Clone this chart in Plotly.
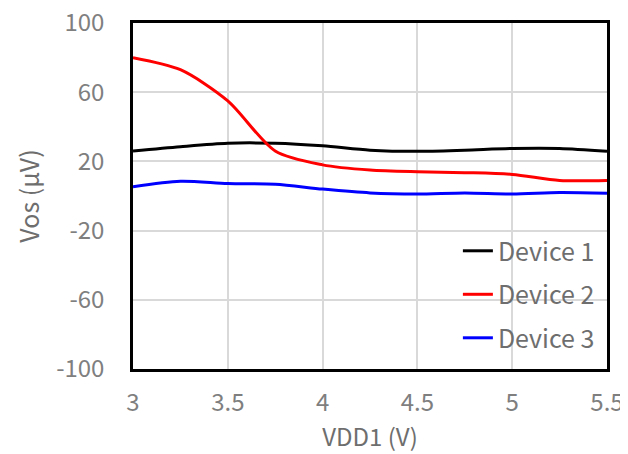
import plotly.graph_objects as go

vdd1 = [3.0, 3.25, 3.5, 3.75, 4.0, 4.25, 4.5, 4.75, 5.0, 5.25, 5.5]
device1 = [26.0, 28.5, 30.5, 30.5, 29.0, 26.5, 25.8, 26.5, 27.5, 27.5, 25.8]
device2 = [80.0, 73.0, 55.0, 26.0, 18.0, 15.0, 14.0, 13.5, 12.5, 9.0, 9.0]
device3 = [5.4, 8.5, 7.2, 6.8, 4.0, 1.8, 1.2, 1.8, 1.2, 2.0, 1.6]
series_names = ["Device 1", "Device 2", "Device 3"]
series_colors = ["#000000", "#ff0000", "#0000ff"]
x_ticks = [3, 3.5, 4, 4.5, 5, 5.5]
x_ticktext = ["3", "3.5", "4", "4.5", "5", "5.5"]
y_ticks = [-100, -60, -20, 20, 60, 100]
y_ticktext = ["-100", "-60", "-20", "20", "60", "100"]

FONT = "Noto Sans CJK SC"
fig = go.Figure()
for name, ys, col in zip(series_names, [device1, device2, device3], series_colors):
    fig.add_trace(go.Scatter(
        x=vdd1, y=ys, name=name, mode="lines", legendgroup=name,
        line=dict(color=col, width=3, shape="spline", smoothing=0.8),
    ))

# page body has an 8px margin, so the figure is sized/offset to compensate
fig.update_layout(
    width=620, height=446,
    margin=dict(l=125, r=21, t=15, b=85, autoexpand=False),
    paper_bgcolor="white", plot_bgcolor="white",
    font=dict(family=FONT, color="#7f7f7f", size=24),
    showlegend=True,
    legend=dict(
        x=0.985, xanchor="right", y=0.023, yanchor="bottom",
        bgcolor="rgba(0,0,0,0)", font=dict(size=25, color="#6e6e6e"),
        tracegroupgap=8, itemwidth=30,
    ),
    xaxis=dict(
        range=[3, 5.5], tickvals=x_ticks, ticktext=x_ticktext, automargin=False,
        showgrid=True, gridcolor="#d9d9d9", gridwidth=1.5,
        showline=True, linecolor="black", linewidth=2.5, mirror=True,
        zeroline=False, ticks="", ticklabelstandoff=10, ticklabeloverflow="allow",
        tickfont=dict(size=24, color="#7f7f7f"),
        title=dict(text="VDD1 (V)", font=dict(size=24, color="#6e6e6e"), standoff=12),
    ),
    yaxis=dict(
        range=[-100, 100], tickvals=y_ticks, ticktext=y_ticktext, automargin=True,
        showgrid=True, gridcolor="#d9d9d9", gridwidth=1.5,
        showline=True, linecolor="black", linewidth=2.5, mirror=True,
        zeroline=False, ticks="", ticklabelstandoff=21, ticklabeloverflow="allow",
        tickfont=dict(size=24, color="#7f7f7f"),
        title=dict(text="Vos (μV)", font=dict(size=25, color="#6e6e6e"), standoff=10),
    ),
)

fig.write_html("out.html")
